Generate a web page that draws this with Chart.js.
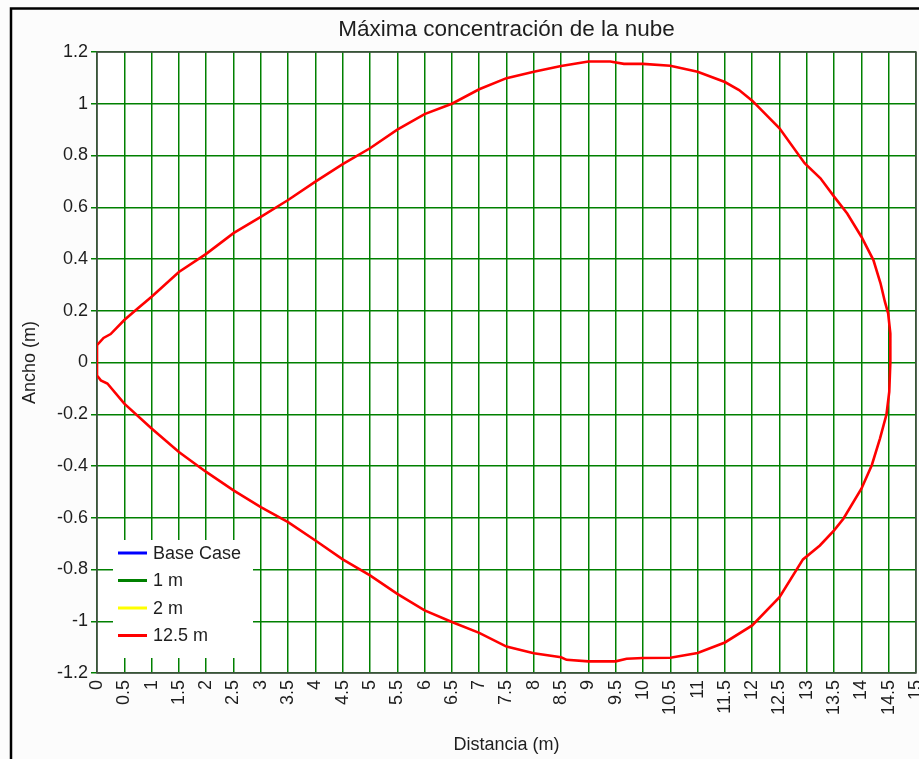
<!DOCTYPE html>
<html>
<head>
<meta charset="utf-8">
<title>Máxima concentración de la nube</title>
<script src="https://cdn.jsdelivr.net/npm/chart.js@4.4.1/dist/chart.umd.min.js"></script>
<style>
  html, body { margin: 0; padding: 0; background: #fcfcfc; overflow: hidden; }
  #nube { display: block; }
</style>
</head>
<body>
<canvas id="nube" width="919" height="759"></canvas>
<script>
// upper edge of the cloud (x in m, y in m)
const upperX = [0, 0, 0.12, 0.25, 0.5, 0.75, 1, 1.5, 2, 2.5, 3, 3.5, 4, 4.5, 5, 5.5, 6, 6.5, 7, 7.5, 8, 8.5, 9, 9.4, 9.65, 10, 10.5, 11, 11.5, 11.76, 12, 12.5, 12.96, 13.25, 13.5, 13.74, 14, 14.22, 14.35, 14.43, 14.49, 14.53, 14.53];
const upperY = [0, 0.067, 0.095, 0.11, 0.164, 0.21, 0.254, 0.35, 0.42, 0.5, 0.563, 0.628, 0.699, 0.767, 0.828, 0.9, 0.96, 1.0, 1.056, 1.099, 1.124, 1.146, 1.163, 1.163, 1.154, 1.154, 1.147, 1.124, 1.084, 1.053, 1.012, 0.905, 0.77, 0.712, 0.641, 0.576, 0.486, 0.396, 0.306, 0.235, 0.19, 0.112, 0];

// lower edge of the cloud
const lowerX = [0, 0, 0.07, 0.19, 0.5, 1, 1.5, 2, 2.5, 3, 3.5, 4, 4.5, 5, 5.5, 6, 6.5, 7, 7.5, 8, 8.5, 8.6, 9, 9.5, 9.7, 10, 10.5, 11, 11.5, 12, 12.5, 12.93, 13.24, 13.5, 13.67, 14, 14.19, 14.34, 14.46, 14.51, 14.53];
const lowerY = [0, -0.05, -0.069, -0.081, -0.159, -0.255, -0.346, -0.423, -0.494, -0.559, -0.617, -0.688, -0.761, -0.823, -0.894, -0.958, -1.003, -1.045, -1.098, -1.124, -1.139, -1.149, -1.155, -1.155, -1.145, -1.142, -1.141, -1.123, -1.082, -1.016, -0.907, -0.761, -0.707, -0.649, -0.604, -0.488, -0.397, -0.294, -0.2, -0.114, 0];

const seriesNames = ['Base Case', '1 m', '2 m', '12.5 m'];
const seriesColors = ['#0000ff', '#008000', '#ffff00', '#ff0000'];

const xTickLabels = ['0', '0.5', '1', '1.5', '2', '2.5', '3', '3.5', '4', '4.5', '5', '5.5', '6', '6.5', '7', '7.5', '8', '8.5', '9', '9.5', '10', '10.5', '11', '11.5', '12', '12.5', '13', '13.5', '14', '14.5', '15'];
const yTickLabels = ['-1.2', '-1', '-0.8', '-0.6', '-0.4', '-0.2', '0', '0.2', '0.4', '0.6', '0.8', '1', '1.2'];

const FONT = '"Liberation Sans", Arial, sans-serif';
const TEXT = '#1e1e1e';
const GRID = 'rgb(0,128,0)';

// closed outline: upper edge left->right, then lower edge right->left
const outline = [];
for (let i = 0; i < upperX.length; i++) outline.push({ x: upperX[i], y: upperY[i] });
for (let i = lowerX.length - 1; i >= 0; i--) outline.push({ x: lowerX[i], y: lowerY[i] });

const datasets = seriesNames.map((name, i) => ({
  label: name,
  data: i === 3 ? outline : [],
  borderColor: seriesColors[i],
  backgroundColor: seriesColors[i],
  borderWidth: 2.6,
  showLine: true,
  pointRadius: 0,
  tension: 0,
  fill: false
}));

const framePlugin = {
  id: 'frame',
  beforeDraw(chart) {
    const ctx = chart.ctx;
    const a = chart.chartArea;
    ctx.save();
    ctx.fillStyle = '#fcfcfc';
    ctx.fillRect(0, 0, chart.width, chart.height);
    ctx.fillStyle = '#ffffff';
    ctx.fillRect(a.left, a.top, a.right - a.left, a.bottom - a.top);
    // outer black frame (left and top edges visible)
    ctx.strokeStyle = '#000000';
    ctx.lineWidth = 2.5;
    ctx.beginPath();
    ctx.moveTo(11, chart.height + 5);
    ctx.lineTo(11, 8.5);
    ctx.lineTo(chart.width + 5, 8.5);
    ctx.stroke();
    ctx.restore();
  },
  beforeDatasetsDraw(chart) {
    const ctx = chart.ctx;
    const a = chart.chartArea;
    ctx.save();
    ctx.strokeStyle = '#4a4a4a';
    ctx.lineWidth = 1.5;
    ctx.strokeRect(a.left, a.top, a.right - a.left, a.bottom - a.top);
    ctx.restore();
  },
  afterDatasetsDraw(chart) {
    // legend box in the lower-left corner of the plot
    const ctx = chart.ctx;
    const a = chart.chartArea;
    const bx = a.left + 16, by = a.bottom - 133, bw = 140, bh = 118;
    ctx.save();
    ctx.fillStyle = '#ffffff';
    ctx.fillRect(bx, by, bw, bh);
    ctx.font = '18px ' + FONT;
    ctx.textBaseline = 'middle';
    ctx.textAlign = 'left';
    chart.data.datasets.forEach((ds, i) => {
      const y = by + 13 + i * 27.5;
      ctx.strokeStyle = ds.borderColor;
      ctx.lineWidth = 3;
      ctx.beginPath();
      ctx.moveTo(bx + 5, y);
      ctx.lineTo(bx + 34, y);
      ctx.stroke();
      ctx.fillStyle = TEXT;
      ctx.fillText(ds.label, bx + 40, y + 1);
    });
    ctx.restore();
  }
};

new Chart(document.getElementById('nube').getContext('2d'), {
  type: 'scatter',
  data: { datasets: datasets },
  options: {
    responsive: false,
    animation: false,
    layout: { autoPadding: false, padding: { left: 19, right: 3, top: 0, bottom: 3 } },
    plugins: {
      legend: { display: false },
      tooltip: { enabled: false },
      title: {
        display: true,
        fullSize: false,
        text: 'Máxima concentración de la nube',
        color: TEXT,
        font: { family: FONT, size: 22.5, weight: 'normal' },
        padding: { top: 16, bottom: 9 }
      }
    },
    scales: {
      x: {
        type: 'linear',
        position: 'bottom',
        min: 0,
        max: 15,
        afterFit(s) { s.height = 83; s.paddingLeft = 0; s.paddingRight = 0; },
        border: { display: false },
        grid: { color: GRID, lineWidth: 1.5, drawTicks: false },
        ticks: {
          stepSize: 0.5,
          autoSkip: false,
          minRotation: 90,
          maxRotation: 90,
          padding: 7,
          color: TEXT,
          font: { family: FONT, size: 18 },
          callback: (v, i) => xTickLabels[i]
        },
        title: {
          display: true,
          text: 'Distancia (m)',
          color: TEXT,
          font: { family: FONT, size: 18 },
          padding: 0
        }
      },
      y: {
        type: 'linear',
        min: -1.2,
        max: 1.2,
        afterFit(s) { s.width = 78; s.paddingTop = 0; s.paddingBottom = 0; },
        border: { display: false },
        grid: { color: GRID, lineWidth: 1.5, drawTicks: true, tickLength: 6 },
        ticks: {
          stepSize: 0.2,
          autoSkip: false,
          padding: 3,
          color: TEXT,
          font: { family: FONT, size: 18 },
          callback: (v, i) => yTickLabels[i]
        },
        title: {
          display: true,
          text: 'Ancho (m)',
          color: TEXT,
          font: { family: FONT, size: 18 },
          padding: 0
        }
      }
    }
  },
  plugins: [framePlugin]
});
</script>
</body>
</html>
